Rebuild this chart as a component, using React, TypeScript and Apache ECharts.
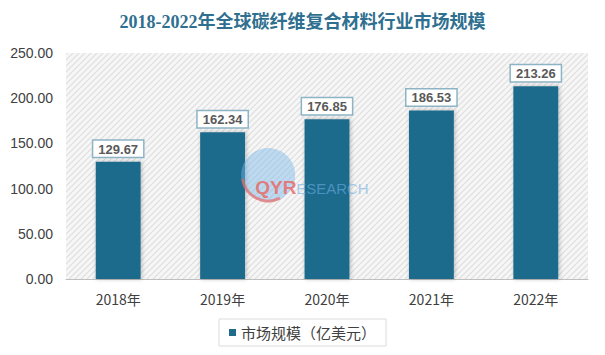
import React, { useEffect, useRef } from "react";
import * as echarts from "echarts";

const categories = ["2018年", "2019年", "2020年", "2021年", "2022年"];
const values = [129.67, 162.34, 176.85, 186.53, 213.26];
const yTicks = [0, 50, 100, 150, 200, 250];
const titleText = "2018-2022年全球碳纤维复合材料行业市场规模";
const seriesName = "市场规模（亿美元）";

function makeHatch(): string {
  const c = document.createElement("canvas");
  c.width = 6;
  c.height = 6;
  const ctx = c.getContext("2d")!;
  ctx.fillStyle = "#f6f6f6";
  ctx.fillRect(0, 0, 6, 6);
  ctx.strokeStyle = "#dedede";
  ctx.lineWidth = 1.2;
  ctx.beginPath();
  ctx.moveTo(0, 6);
  ctx.lineTo(6, 0);
  ctx.moveTo(-3, 3);
  ctx.lineTo(3, -3);
  ctx.moveTo(3, 9);
  ctx.lineTo(9, 3);
  ctx.stroke();
  return c.toDataURL();
}

export default function App() {
  const ref = useRef<HTMLDivElement>(null);
  useEffect(() => {
    if (!ref.current) return;
    const chart = echarts.init(ref.current, undefined, { renderer: "svg" });
    const img = new Image();
    img.src = makeHatch();
    chart.setOption({
      animation: false,
      backgroundColor: "#ffffff",
      title: {
        text: titleText,
        left: "center",
        top: 8,
        textStyle: {
          fontFamily: "'Liberation Serif', 'Noto Sans CJK SC', serif",
          fontWeight: "bold",
          fontSize: 18,
          color: "#2f6f8f",
        },
      },
      grid: {
        left: 66,
        right: 17,
        top: 53,
        bottom: 76,
        show: true,
        borderWidth: 0,
        backgroundColor: { image: img, repeat: "repeat" } as any,
      },
      legend: {
        bottom: 9,
        left: "center",
        data: [seriesName],
        icon: "rect",
        itemWidth: 7,
        itemHeight: 7,
        itemGap: 4,
        padding: [6, 10],
        borderColor: "#dcdcdc",
        borderWidth: 1,
        textStyle: {
          fontFamily: "'Noto Sans CJK SC', sans-serif",
          fontSize: 15,
          color: "#404040",
        },
      },
      xAxis: {
        type: "category",
        data: categories,
        axisLine: { show: true, lineStyle: { color: "#bfbfbf", width: 1 } },
        axisTick: { show: false },
        axisLabel: {
          fontFamily: "'Noto Sans CJK SC', sans-serif",
          fontSize: 14,
          color: "#404040",
          margin: 13,
        },
      },
      yAxis: {
        type: "value",
        min: yTicks[0],
        max: yTicks[yTicks.length - 1],
        interval: 50,
        splitLine: { show: false },
        axisLine: { show: false },
        axisTick: { show: false },
        axisLabel: {
          fontFamily: "'Liberation Sans', 'Noto Sans', sans-serif",
          fontSize: 14,
          color: "#404040",
          margin: 13,
          formatter: (v: number) => v.toFixed(2),
        },
      },
      graphic: [
        {
          type: "rect",
          left: 0,
          bottom: 0,
          silent: true,
          shape: { width: 605, height: 3 },
          style: { fill: "#ececec" },
        },
        {
          type: "group",
          left: 240,
          top: 148,
          silent: true,
          children: [
            {
              type: "circle",
              z: 100,
              shape: { cx: 27, cy: 27, r: 27 },
              style: { fill: "rgba(120,185,232,0.45)" },
            },
            {
              type: "arc",
              z: 101,
              shape: { cx: 27, cy: 27, r: 26, startAngle: Math.PI * 0.35, endAngle: Math.PI * 0.95 },
              style: { stroke: "rgba(235,100,95,0.65)", lineWidth: 3, fill: "none" },
            },
            {
              type: "text",
              z: 102,
              x: 14,
              y: 30,
              style: {
                text: "QYR",
                fill: "rgba(235,100,95,0.8)",
                fontSize: 19,
                fontWeight: "bold",
                fontFamily: "'Liberation Sans', sans-serif",
              },
            },
            {
              type: "text",
              z: 102,
              x: 55,
              y: 33,
              style: {
                text: "ESEARCH",
                fill: "rgba(110,175,225,0.6)",
                fontSize: 15,
                fontFamily: "'Liberation Sans', sans-serif",
              },
            },
          ],
        },
      ],
      series: [
        {
          name: seriesName,
          type: "bar",
          data: values,
          barWidth: "43%",
          itemStyle: {
            color: "#1f6b8c",
            shadowColor: "rgba(0,0,0,0.25)",
            shadowBlur: 4,
            shadowOffsetX: 1,
            shadowOffsetY: 0,
          },
          label: {
            show: true,
            position: "top",
            distance: 5,
            formatter: (p: any) => p.value.toFixed(2),
            fontFamily: "'Liberation Sans', 'Noto Sans', sans-serif",
            fontSize: 13,
            fontWeight: "bold",
            color: "#595959",
            backgroundColor: "#ffffff",
            borderColor: "#8db4c4",
            borderWidth: 1.5,
            padding: [2, 5, 1, 5],
          },
        },
      ],
    });
    return () => chart.dispose();
  }, []);
  return <div ref={ref} style={{ width: 605, height: 355, margin: -8 }} />;
}
